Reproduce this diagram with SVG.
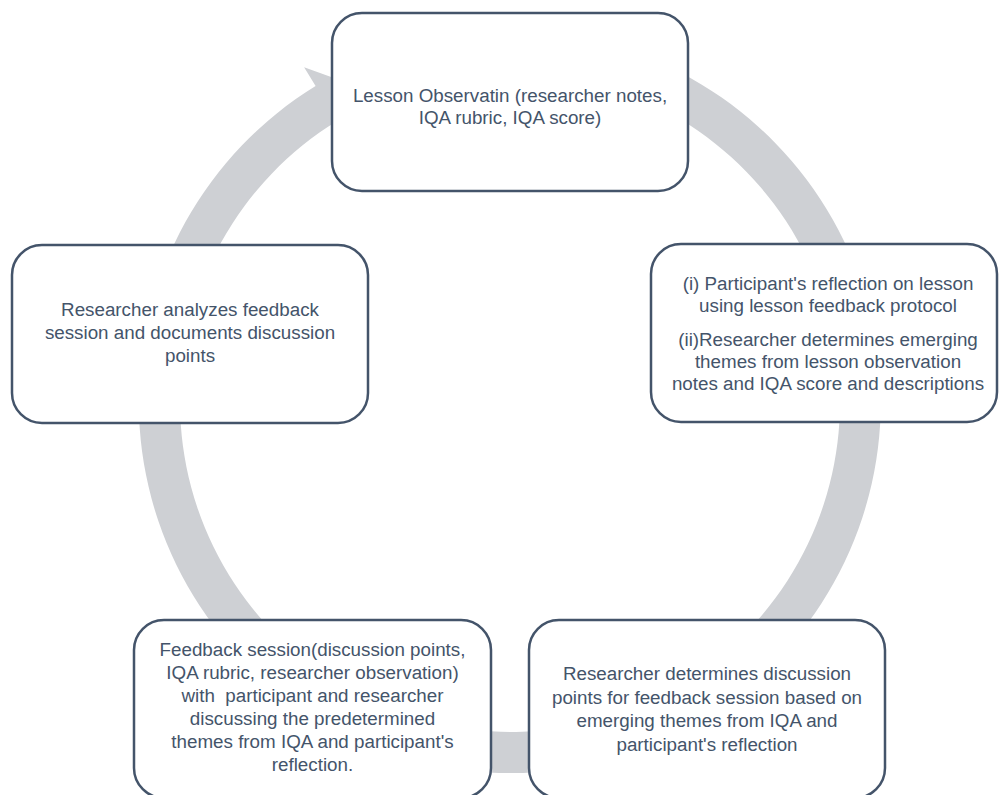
<svg xmlns="http://www.w3.org/2000/svg" width="999" height="795" viewBox="0 0 999 795">
<style>
.box{fill:#FFFFFF;stroke:#44546A;stroke-width:2.5}
.t{font-family:"Liberation Sans",Arial,sans-serif;font-size:18.8px;fill:#44546A;text-anchor:middle}
.ring{fill:#CED0D4;stroke:none}
</style>
<rect x="0" y="0" width="999" height="795" fill="#FFFFFF"/>
<g id="connectors">
<path class="ring" d="M 359.1 63.1 A 371 371 0 1 1 315.6 86.0 L 304.1 67.3 L 357.5 86.4 L 348.6 139.7 L 337.1 120.9 A 330 330 0 1 0 375.8 100.5 Z"/>
</g>
<g id="node-lesson-observation">
<rect class="box" x="332" y="13" width="356" height="178" rx="30" ry="30"/>
<text class="t" x="510" y="102">Lesson Observatin (researcher notes,</text>
<text class="t" x="510" y="124">IQA rubric, IQA score)</text>
</g>
<g id="node-reflection">
<rect class="box" x="651" y="244" width="346" height="178" rx="30" ry="30"/>
<text class="t" x="828" y="290">(i) Participant's reflection on lesson</text>
<text class="t" x="828" y="312">using lesson feedback protocol</text>
<text class="t" x="828" y="346">(ii)Researcher determines emerging</text>
<text class="t" x="828" y="368">themes from lesson observation</text>
<text class="t" x="828" y="390">notes and IQA score and descriptions</text>
</g>
<g id="node-discussion-points">
<rect class="box" x="529" y="620" width="356" height="178" rx="30" ry="30"/>
<text class="t" x="707" y="680">Researcher determines discussion</text>
<text class="t" x="707" y="703.5">points for feedback session based on</text>
<text class="t" x="707" y="727">emerging themes from IQA and</text>
<text class="t" x="707" y="750.5">participant's reflection</text>
</g>
<g id="node-feedback-session">
<rect class="box" x="134" y="620" width="357" height="178" rx="30" ry="30"/>
<text class="t" x="312.5" y="656">Feedback session(discussion points,</text>
<text class="t" x="312.5" y="679">IQA rubric, researcher observation)</text>
<text class="t" x="312.5" y="702" xml:space="preserve">with  participant and researcher</text>
<text class="t" x="312.5" y="725">discussing the predetermined</text>
<text class="t" x="312.5" y="748">themes from IQA and participant's</text>
<text class="t" x="312.5" y="771">reflection.</text>
</g>
<g id="node-analysis">
<rect class="box" x="12" y="245" width="356" height="178" rx="30" ry="30"/>
<text class="t" x="190" y="316">Researcher analyzes feedback</text>
<text class="t" x="190" y="339">session and documents discussion</text>
<text class="t" x="190" y="362">points</text>
</g>
</svg>
